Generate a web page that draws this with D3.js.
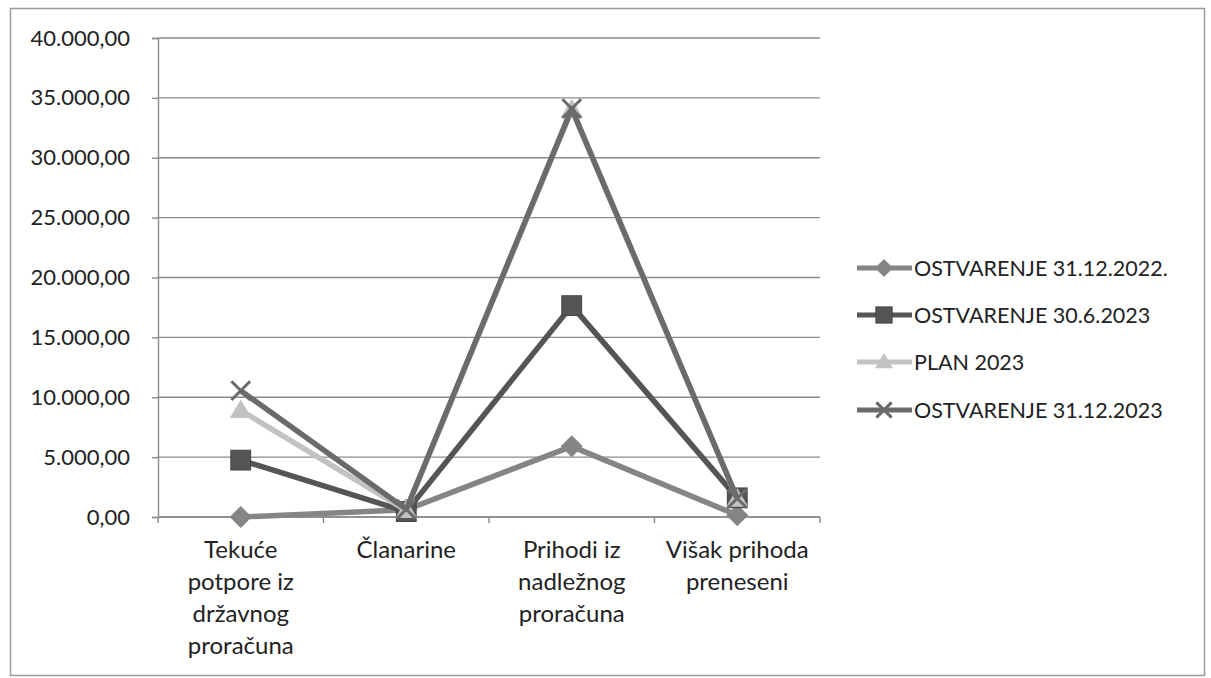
<!DOCTYPE html>
<html>
<head>
<meta charset="utf-8">
<script src="https://cdn.jsdelivr.net/npm/d3@7"></script>
<style>
  html, body { margin: 0; padding: 0; background: #fff; }
  svg { display: block; font-family: Lato, "Open Sans", sans-serif; }
</style>
</head>
<body>
<svg id="chart" width="1211" height="678"></svg>
<script>
// Revenue categories (x axis)
const categories = [
  ["Tekuće", "potpore iz", "državnog", "proračuna"],
  ["Članarine"],
  ["Prihodi iz", "nadležnog", "proračuna"],
  ["Višak prihoda", "preneseni"]
];

// Series values (EUR)
const seriesNames = [
  "OSTVARENJE 31.12.2022.",
  "OSTVARENJE 30.6.2023",
  "PLAN 2023",
  "OSTVARENJE 31.12.2023"
];
const ostvarenje2022 = [0, 600, 5900, 150];
const ostvarenje6_2023 = [4750, 450, 17650, 1600];
const plan2023 = [8900, 550, 34000, 1500];
const ostvarenje12_2023 = [10550, 650, 34100, 1550];

const yTicks = [0, 5000, 10000, 15000, 20000, 25000, 30000, 35000, 40000];

const seriesData = [ostvarenje2022, ostvarenje6_2023, plan2023, ostvarenje12_2023];
const colors = ["#858585", "#555555", "#c2c2c2", "#6b6b6b"];
const markers = ["diamond", "square", "triangle", "x"];

const svg = d3.select("#chart");

// outer frame
svg.append("rect")
  .attr("x", 10.5).attr("y", 8.5)
  .attr("width", 1194).attr("height", 667)
  .attr("fill", "none").attr("stroke", "#9a9a9a").attr("stroke-width", 1.5);

const plotLeft = 158, plotRight = 820, plotTop = 38, plotBottom = 517;

const x = d3.scaleBand().domain(d3.range(categories.length)).range([plotLeft, plotRight]);
const y = d3.scaleLinear().domain([0, 40000]).range([plotBottom, plotTop]);

const fmt = v => {
  const s = d3.format(",.2f")(v);
  return s.replace(/,/g, "#").replace(".", ",").replace(/#/g, ".");
};

// gridlines
svg.append("g")
  .selectAll("line")
  .data(yTicks)
  .join("line")
  .attr("x1", plotLeft).attr("x2", plotRight)
  .attr("y1", d => y(d)).attr("y2", d => y(d))
  .attr("stroke", "#8a8a8a").attr("stroke-width", 1.4);

// y axis
const yAxis = svg.append("g")
  .attr("transform", `translate(${plotLeft},0)`)
  .call(d3.axisLeft(y).tickValues(yTicks).tickFormat(fmt).tickSizeOuter(0).tickSize(6).tickPadding(22));
yAxis.select(".domain").attr("stroke", "#8a8a8a").attr("stroke-width", 1.4);
yAxis.selectAll(".tick line").attr("stroke", "#8a8a8a").attr("stroke-width", 1.4);
yAxis.selectAll(".tick text")
  .attr("font-size", 22).attr("fill", "#222")
  .attr("font-family", "Lato, 'Open Sans', sans-serif");

// x axis (ticks at category boundaries)
const xg = svg.append("g").attr("transform", `translate(0,${plotBottom})`);
xg.append("line").attr("x1", plotLeft).attr("x2", plotRight).attr("y1", 0).attr("y2", 0)
  .attr("stroke", "#8a8a8a").attr("stroke-width", 1.4);
xg.selectAll("line.tk")
  .data(d3.range(categories.length + 1))
  .join("line").attr("class", "tk")
  .attr("x1", i => plotLeft + i * x.bandwidth())
  .attr("x2", i => plotLeft + i * x.bandwidth())
  .attr("y1", 0).attr("y2", 6)
  .attr("stroke", "#8a8a8a").attr("stroke-width", 1.4);

const cx = i => x(i) + x.bandwidth() / 2;

xg.selectAll("text.cat")
  .data(categories)
  .join("text").attr("class", "cat")
  .attr("x", (d, i) => cx(i))
  .attr("y", 41)
  .attr("text-anchor", "middle")
  .attr("font-size", 24).attr("fill", "#222")
  .each(function(lines) {
    const t = d3.select(this);
    t.selectAll("tspan")
      .data(lines)
      .join("tspan")
      .attr("x", t.attr("x"))
      .attr("dy", (d, j) => j === 0 ? 0 : 32)
      .text(d => d);
  });

// marker drawing
function drawMarker(g, type, px, py, color, size) {
  const s = size;
  if (type === "diamond") {
    g.append("path")
      .attr("d", `M${px},${py - s}L${px + s},${py}L${px},${py + s}L${px - s},${py}Z`)
      .attr("fill", color);
  } else if (type === "square") {
    g.append("rect")
      .attr("x", px - s * 0.9).attr("y", py - s * 0.9)
      .attr("width", s * 1.8).attr("height", s * 1.8)
      .attr("fill", color).attr("stroke", "#444").attr("stroke-width", 1);
  } else if (type === "triangle") {
    g.append("path")
      .attr("d", `M${px},${py - s}L${px + s},${py + s * 0.7}L${px - s},${py + s * 0.7}Z`)
      .attr("fill", color);
  } else if (type === "x") {
    const k = s * 0.85;
    g.append("path")
      .attr("d", `M${px - k},${py - k}L${px + k},${py + k}M${px + k},${py - k}L${px - k},${py + k}`)
      .attr("stroke", color).attr("stroke-width", 3).attr("fill", "none");
  }
}

const line = d3.line().x((d, i) => cx(i)).y(d => y(d));

const plotG = svg.append("g");
seriesData.forEach((vals, si) => {
  const g = plotG.append("g");
  g.append("path")
    .datum(vals)
    .attr("d", line)
    .attr("fill", "none")
    .attr("stroke", colors[si])
    .attr("stroke-width", 5.5)
    .attr("stroke-linejoin", "round");
  vals.forEach((v, i) => drawMarker(g, markers[si], cx(i), y(v), colors[si], 11));
});

// legend
const legend = svg.append("g");
const legY = [268, 315, 362, 410];
seriesNames.forEach((name, si) => {
  const g = legend.append("g");
  g.append("line")
    .attr("x1", 857).attr("x2", 912)
    .attr("y1", legY[si]).attr("y2", legY[si])
    .attr("stroke", colors[si]).attr("stroke-width", 5);
  drawMarker(g, markers[si], 884, legY[si], colors[si], 9);
  g.append("text")
    .attr("x", 914).attr("y", legY[si] + 8)
    .attr("font-size", 21.5).attr("fill", "#222")
    .text(name);
});
</script>
</body>
</html>
